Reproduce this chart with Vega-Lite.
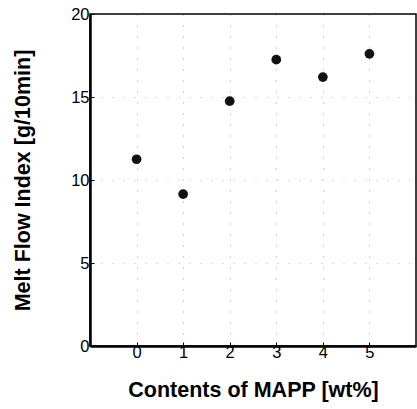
{
  "$schema": "https://vega.github.io/schema/vega-lite/v6.json",
  "width": 326,
  "height": 332,
  "autosize": "none",
  "padding": {"left": 90, "top": 14, "right": 1, "bottom": 63},
  "background": "white",
  "config": {
    "view": {"stroke": "#000", "strokeWidth": 1.5},
    "font": "Liberation Sans"
  },
  "data": {
    "values": [
      {"mapp": 0, "mfi": 11.25},
      {"mapp": 1, "mfi": 9.15},
      {"mapp": 2, "mfi": 14.75},
      {"mapp": 3, "mfi": 17.25},
      {"mapp": 4, "mfi": 16.2},
      {"mapp": 5, "mfi": 17.6}
    ]
  },
  "mark": {"type": "point", "filled": true, "shape": "circle", "size": 95, "color": "#111", "opacity": 1},
  "encoding": {
    "x": {
      "field": "mapp",
      "type": "quantitative",
      "scale": {"domain": [-1, 6], "nice": false, "zero": false},
      "axis": {
        "title": "Contents of MAPP [wt%]",
        "values": [0, 1, 2, 3, 4, 5],
        "format": "d",
        "domainColor": "#000",
        "domainWidth": 2.5,
        "tickColor": "#000",
        "tickSize": -4,
        "labelFontSize": 16.5,
        "labelColor": "#000",
        "labelPadding": 2,
        "titleFontSize": 21.5,
        "titleFontWeight": "bold",
        "titleColor": "#000",
        "titlePadding": 19,
        "grid": true,
        "gridDash": [1, 10],
        "gridColor": "#333",
        "gridOpacity": 0.45
      }
    },
    "y": {
      "field": "mfi",
      "type": "quantitative",
      "scale": {"domain": [0, 20], "nice": false},
      "axis": {
        "title": "Melt Flow Index [g/10min]",
        "values": [0, 5, 10, 15, 20],
        "domainColor": "#000",
        "domainWidth": 2.5,
        "tickColor": "#000",
        "tickSize": -4,
        "labelFontSize": 16.5,
        "labelColor": "#000",
        "labelPadding": 5,
        "titleFontSize": 21.5,
        "titleFontWeight": "bold",
        "titleColor": "#000",
        "titlePadding": 36,
        "grid": true,
        "gridDash": [1, 10],
        "gridColor": "#333",
        "gridOpacity": 0.35
      }
    }
  }
}
